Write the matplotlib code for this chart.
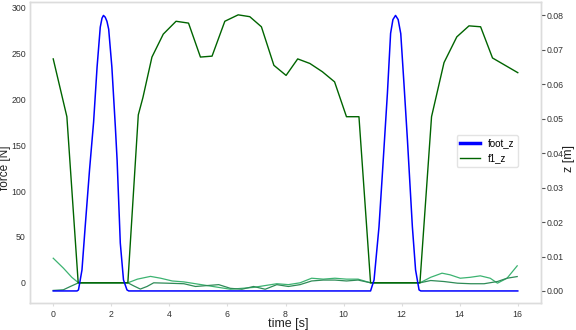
import matplotlib
matplotlib.use("Agg")
import matplotlib.pyplot as plt
from matplotlib.lines import Line2D

plt.rcParams['font.family'] = ['Liberation Sans', 'DejaVu Sans']

# ---- data ----
# normal force (dark green, left axis)
t_fz = [0, 0.47, 0.86, 2.57, 2.93, 3.09, 3.40, 3.79, 4.23, 4.66, 5.07, 5.47,
        5.91, 6.37, 6.77, 7.17, 7.60, 8.02, 8.42, 8.84, 9.27, 9.69, 10.10,
        10.53, 10.93, 12.63, 13.03, 13.46, 13.90, 14.32, 14.72, 15.13, 16.0]
f_z = [244, 181, 0, 0, 183, 202, 246, 271, 285, 283, 246, 247,
       285, 292, 290, 279, 237, 226, 244, 239, 230, 219, 181,
       181, 0, 0, 181, 240, 268, 280, 279, 245, 229]

# tangential forces (light greens, left axis)
t_fa = [0, 0.35, 0.64, 0.87, 2.57, 2.9, 3.35, 3.7, 4.1, 4.5, 4.9, 5.3, 5.7,
        6.1, 6.5, 6.9, 7.3, 7.7, 8.1, 8.5, 8.9, 9.3, 9.7, 10.1, 10.5, 10.93,
        12.63, 13.0, 13.39, 13.67, 14.02, 14.36, 14.71, 15.05, 15.3, 15.63, 15.98]
f_a = [26.8, 16, 6, 0, 0, 4, 7, 5, 2, 1, -1, -3, -5,
       -7, -6, -5, -3, -1, -2, 0, 5, 4, 5, 4, 4, 0,
       0, 6, 10.5, 8.7, 5, 6, 7.6, 5, -0.4, 5, 18.5]
t_fb = [0, 0.35, 0.59, 0.87, 2.57, 2.77, 3.0, 3.23, 3.46, 3.92, 4.5, 4.9, 5.3,
        5.7, 6.1, 6.5, 6.9, 7.3, 7.7, 8.1, 8.5, 8.9, 9.3, 9.7, 10.1, 10.5, 10.93,
        12.63, 13.0, 13.46, 13.92, 14.38, 14.84, 15.3, 15.63, 15.98]
f_b = [-8.3, -7.6, -4, 0, 0, -3.3, -6.8, -4, 0, -0.4, -1, -4, -3,
       -2, -6, -7, -4, -7, -2, -4, -2, 2, 3, 3, 2, 3, 0,
       0, 2.5, 1.4, -0.4, -1, -1, 1.4, 5, 6.8]

# foot height (blue, right axis)
t_z = [0, 0.82, 0.87, 0.99, 1.10, 1.25, 1.39, 1.51, 1.62, 1.68, 1.73, 1.79,
       1.85, 1.91, 2.02, 2.14, 2.20, 2.31, 2.42, 2.54, 2.60,
       10.93, 11.05, 11.22, 11.33, 11.51, 11.62, 11.70, 11.79, 11.88, 11.97,
       12.08, 12.20, 12.37, 12.48, 12.60, 12.66, 16.0]
foot_z = [0, 0, 0.0003, 0.0061, 0.0186, 0.0351, 0.0490, 0.0650, 0.0766, 0.0792,
          0.0800, 0.0795, 0.0783, 0.0760, 0.0650, 0.0476, 0.0380, 0.0139, 0.0032,
          0.0003, 0,
          0, 0.0032, 0.0186, 0.0331, 0.0574, 0.0748, 0.0788, 0.0800, 0.0788,
          0.0747, 0.0602, 0.0438, 0.0186, 0.0061, 0.0003, 0, 0]

xticks = [0, 2, 4, 6, 8, 10, 12, 14, 16]
yticks_f = [0, 50, 100, 150, 200, 250, 300]
yticks_z = [0.00, 0.01, 0.02, 0.03, 0.04, 0.05, 0.06, 0.07, 0.08]

# ---- plot ----
fig = plt.figure(figsize=(5.76, 3.3), dpi=100)
ax = fig.add_axes([30/576, 1 - 303/330, 511/576, 301/330])
ax2 = ax.twinx()

ax.plot(t_fa, f_a, c='#3cb371', lw=0.9)
ax.plot(t_fb, f_b, c='#2e8b57', lw=0.9)
ax.plot(t_fz, f_z, c='#006400', lw=1.0)
ax2.plot(t_z, foot_z, c='#0000ff', lw=1.1)

ax.set_xlim(-0.8, 16.8)
ax.set_ylim(-22, 306)
ax2.set_ylim(-0.0035, 0.0839)

ax.set_xticks(xticks)
ax.set_yticks(yticks_f)
ax2.set_yticks(yticks_z)
ax2.set_yticklabels(["%.2f" % v for v in yticks_z])

grey = '#dcdcdc'
for a in (ax, ax2):
    for s in a.spines.values():
        s.set_color(grey)
        s.set_linewidth(1.0)

ax.tick_params(axis='y', length=0, pad=3, labelsize=6.3, labelcolor='#333333')
ax.tick_params(axis='x', length=2, color=grey, pad=3, labelsize=6.3, labelcolor='#333333')
ax2.tick_params(axis='y', length=3, color='#555555', pad=1, labelsize=6.3, labelcolor='#333333')

ax.set_xlabel("time [s]", fontsize=9, color='#222222')
ax.xaxis.set_label_coords(0.505, -0.05)
ax.set_ylabel("force [N]", fontsize=8.5, color='#222222')
ax.yaxis.set_label_coords(-0.037, 0.45)
ax2.set_ylabel("z [m]", fontsize=9, color='#222222')
ax2.yaxis.set_label_coords(1.043, 0.48)

handles = [Line2D([], [], c='#0000ff', lw=2.5), Line2D([], [], c='#006400', lw=1.0)]
ax2.legend(handles, ["foot_z", "f1_z"], loc='center right',
           bbox_to_anchor=(0.955, 0.505), borderaxespad=0, fontsize=7,
           frameon=True, edgecolor=grey, handlelength=2.0)

fig.savefig("out.png", dpi=100)
